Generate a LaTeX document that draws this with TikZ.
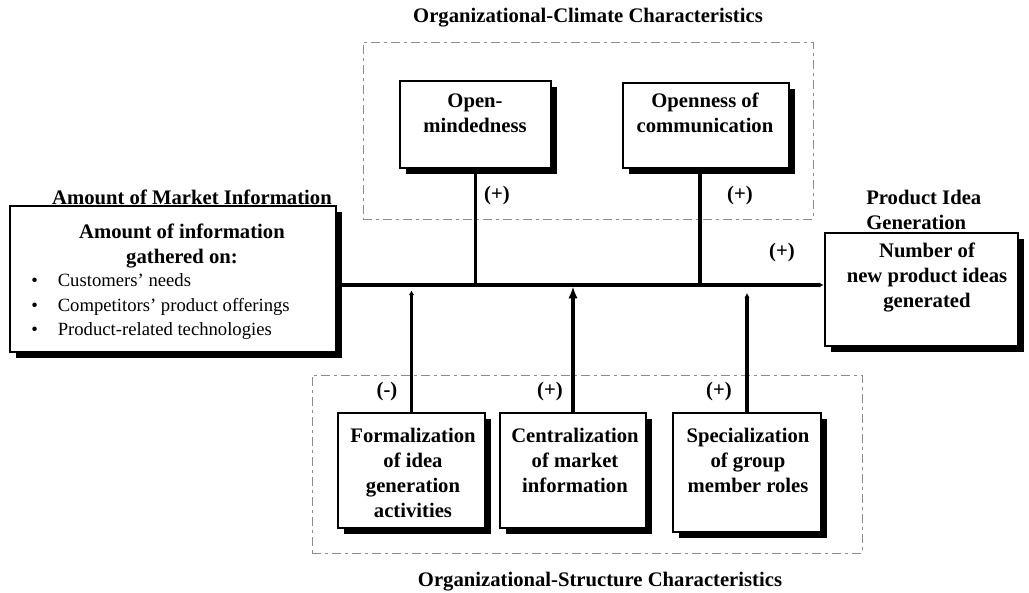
\documentclass[tikz,border=0pt]{standalone}
\usepackage{fontspec}
\setmainfont{Liberation Serif}
\usetikzlibrary{arrows.meta,shadows}

\begin{document}
\begin{tikzpicture}[x=0.75pt,y=-0.75pt,
  box/.style={draw=black, line width=2.2pt, fill=white, inner sep=0pt,
    drop shadow={shadow xshift=4.5pt, shadow yshift=-4.5pt, opacity=1, fill=black}},
  frame/.style={draw=black!45, line width=0.7pt, dash pattern=on 7pt off 3pt on 2pt off 3pt, inner sep=0pt},
  bold/.style={font=\fontsize{15.5}{18.75}\selectfont\bfseries, align=center, inner sep=0pt},
  plain/.style={font=\fontsize{14}{18.4}\selectfont, align=left, inner sep=0pt},
  link/.style={line width=2.3pt},
  bigtip/.style={-{Latex[length=9pt,width=7pt]}},
  smalltip/.style={-{Latex[length=3.5pt,width=4pt]}}
]
\useasboundingbox (0,0) rectangle (1029,593);

% dashed frames of the two characteristic groups
\node[frame, minimum width=337.5pt, minimum height=132.75pt] (climate) at (588,130.5) {};
\node[frame, minimum width=412.5pt, minimum height=133.5pt] (structure) at (587,464) {};

% group headings
\node[bold] (ctitle) at (588,18) {Organizational-Climate Characteristics};
\node[bold] (stitle) at (600,582) {Organizational-Structure Characteristics};
\node[bold] (mtitle) at (192,197) {Amount of Market Information};
\node[bold, align=left, anchor=west] (ptitle) at (866,210) {Product Idea\\Generation};

% boxes
\node[box, minimum width=244.5pt, minimum height=109.5pt] (lb) at (173,279) {};
\node[box, minimum width=113.25pt, minimum height=65.25pt] (om) at (475.5,124.5) {};
\node[box, minimum width=124.5pt, minimum height=63.75pt] (oc) at (706,125.5) {};
\node[box, minimum width=144.75pt, minimum height=84.75pt] (rb) at (921.5,289.5) {};
\node[box, minimum width=110.25pt, minimum height=86.25pt] (fo) at (411.5,470.5) {};
\node[box, minimum width=109.5pt, minimum height=86.25pt] (ce) at (573,470.5) {};
\node[box, minimum width=111pt, minimum height=89.25pt] (sp) at (747,472.5) {};

% box texts
\node[bold] (lbhead) at (182,246) {Amount of information\\gathered on:};
\node[plain, anchor=west] (lblist) at (31,306.5) {%
  \begin{tabular}{@{}l@{\hspace{15pt}}l@{}}
  \textbullet & Customers' needs\\
  \textbullet & Competitors' product offerings\\
  \textbullet & Product-related technologies
  \end{tabular}};
\node[bold] (omt) at (475,113) {Open-\\mindedness};
\node[bold] (oct) at (705,113) {Openness of\\communication};
\node[bold] (rbt) at (927,277.5) {Number of\\new product ideas\\generated};
\node[bold] (fot) at (413,473) {Formalization\\of idea\\generation\\activities};
\node[bold] (cet) at (575,460.5) {Centralization\\of market\\information};
\node[bold] (spt) at (748,460.5) {Specialization\\of group\\member roles};

% sign labels
\node[bold] (s1) at (497,196) {(+)};
\node[bold] (s2) at (740,196) {(+)};
\node[bold] (s3) at (782,253) {(+)};
\node[bold] (s4) at (387,392) {(-)};
\node[bold] (s5) at (550,392) {(+)};
\node[bold] (s6) at (719,392) {(+)};

% connectors
\coordinate (mainy) at (0,285);
\draw[link, smalltip] (lb.east |- mainy) -- (rb.west |- mainy);
\draw[link] (om.south) -- (om.south |- mainy);
\draw[link] ([xshift=-4.5pt]oc.south) -- ([xshift=-4.5pt]oc.south |- mainy);
\draw[link, smalltip] (fo.north) -- ([yshift=-4pt]fo.north |- mainy);
\draw[link, bigtip] (ce.north) -- ([yshift=-1pt]ce.north |- mainy);
\draw[link, smalltip] (sp.north) -- ([yshift=-6pt]sp.north |- mainy);
\end{tikzpicture}
\end{document}
